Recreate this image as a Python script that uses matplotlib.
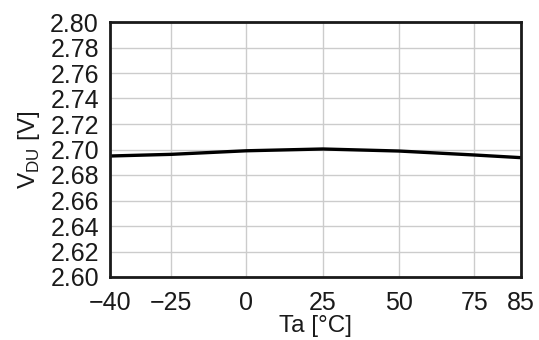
import numpy as np
import matplotlib
matplotlib.use("Agg")
import matplotlib.pyplot as plt

plt.rcParams["font.family"] = ["Liberation Sans", "DejaVu Sans"]
plt.rcParams["mathtext.fontset"] = "custom"
plt.rcParams["mathtext.rm"] = "Liberation Sans"

# data
temps = [-40, -25, 0, 25, 50, 75, 85]
vdu = [2.6949, 2.6962, 2.6990, 2.7004, 2.6988, 2.6957, 2.6936]
x_ticks = [-40, -25, 0, 25, 50, 75, 85]
y_ticks = [2.60, 2.62, 2.64, 2.66, 2.68, 2.70, 2.72, 2.74, 2.76, 2.78, 2.80]

# the x axis of the original is not evenly spaced: place ticks where they sit
tick_pos = [0.0, 61.0, 136.0, 212.3, 288.3, 363.3, 410.0]


def fwd(x):
    return np.interp(x, x_ticks, tick_pos)


def inv(p):
    return np.interp(p, tick_pos, x_ticks)


fig = plt.figure(figsize=(5.39, 3.40), dpi=100)
ax = fig.add_axes([110 / 539, 63 / 340, 411 / 539, 255 / 340])
ax.set_xscale("function", functions=(fwd, inv))

ax.plot(temps, vdu, color="black", lw=2.4, solid_capstyle="butt")

ax.set_xlim(-40, 85)
ax.set_ylim(2.60, 2.80)
ax.set_xticks(x_ticks)
ax.set_xticklabels(["\u221240", "\u221225", "0", "25", "50", "75", "85"])
ax.set_yticks(y_ticks)
ax.set_yticklabels(["%.2f" % v for v in y_ticks])
ax.minorticks_off()
ax.tick_params(axis="both", length=0, labelsize=18, colors="#1a1a1a")
ax.tick_params(axis="x", pad=10)
ax.tick_params(axis="y", pad=8)

ax.grid(True, color="#cccccc", lw=1.0)
ax.set_axisbelow(True)
for s in ax.spines.values():
    s.set_linewidth(2.0)
    s.set_color("#1a1a1a")

ax.set_xlabel("Ta [\u00b0C]", fontsize=17.5, labelpad=0, color="#1a1a1a")
ax.set_ylabel(r"V$_{\mathrm{DU}}$ [V]", fontsize=17.5, labelpad=6, color="#1a1a1a")

fig.savefig("out.png", dpi=100)
